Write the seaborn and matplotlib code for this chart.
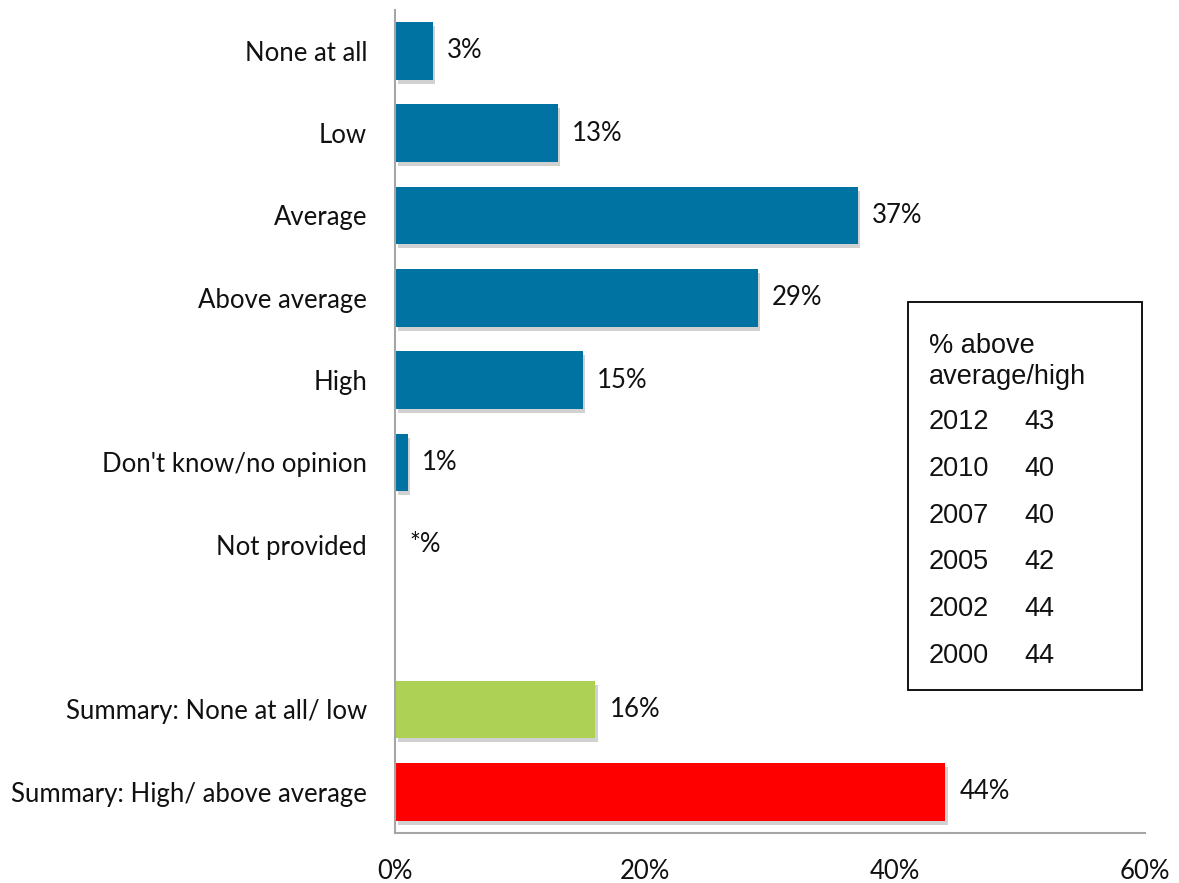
import matplotlib
matplotlib.use("Agg")
import matplotlib.pyplot as plt
import matplotlib.patheffects as pe
from matplotlib.patches import Rectangle
import seaborn as sns
import pandas as pd

# Response categories (the blank entry leaves a gap before the summary rows)
categories = ["None at all", "Low", "Average", "Above average", "High",
              "Don't know/no opinion", "Not provided", " ",
              "Summary: None at all/ low", "Summary: High/ above average"]
values = [3, 13, 37, 29, 15, 1, 0, None, 16, 44]
value_labels = ["3%", "13%", "37%", "29%", "15%", "1%", "*%", "", "16%", "44%"]
groups = ["detail"] * 7 + ["gap", "low", "high"]

# Trend table shown in the box
trend_years = ["2012", "2010", "2007", "2005", "2002", "2000"]
trend_values = ["43", "40", "40", "42", "44", "44"]
x_ticks = [0, 20, 40, 60]

sns.set_theme(style="white")
plt.rcParams["font.family"] = ["Lato", "DejaVu Sans"]

palette = {"detail": "#0073A2", "gap": "#FFFFFF", "low": "#ADD155", "high": "#FF0000"}

df = pd.DataFrame({"category": categories, "value": values, "group": groups})
plot_df = df.dropna(subset=["value"])

W, H = 1179, 883
fig = plt.figure(figsize=(W / 100, H / 100), dpi=100)
ax = fig.add_axes([395 / W, 1 - 833 / H, 750 / W, (833 - 9.6) / H])

sns.barplot(data=plot_df, x="value", y="category", hue="group", order=categories,
            palette=palette, orient="h", width=0.7, legend=False, ax=ax,
            saturation=1, edgecolor="none")

shadow = [pe.SimplePatchShadow(offset=(2, -3), shadow_rgbFace="#8c8c8c", alpha=0.4),
          pe.Normal()]
for bar in ax.patches:
    bar.set_path_effects(shadow)

label_size = 18.5
for i, (v, lab) in enumerate(zip(values, value_labels)):
    if v is None:
        continue
    ax.text(v + 1.15, i, lab, va="center", ha="left", fontsize=label_size, color="#111111")

ax.set_xlim(0, 60)
ax.set_ylim(len(categories) - 0.5, -0.5)
ax.set_xticks(x_ticks)
ax.set_xticklabels([f"{t}%" for t in x_ticks], fontsize=label_size, color="#111111")
ax.set_yticks(range(len(categories)))
ax.set_yticklabels(categories, fontsize=label_size, color="#111111")
ax.tick_params(axis="y", length=0, pad=20)
ax.tick_params(axis="x", length=0, pad=19)
ax.set_xlabel("")
ax.set_ylabel("")

for side in ["top", "right"]:
    ax.spines[side].set_visible(False)
for side in ["left", "bottom"]:
    ax.spines[side].set_color("#a6a6a6")
    ax.spines[side].set_linewidth(1.5)

# Trend box
box = Rectangle((908 / W, 1 - 690 / H), 234 / W, 388 / H, transform=fig.transFigure,
                facecolor="white", edgecolor="black", linewidth=1.3)
fig.patches.append(box)

box_font = ["Liberation Sans", "DejaVu Sans"]
box_size = 19.5
fig.text(929 / W, 1 - 346 / H, "% above", fontsize=box_size, va="center", ha="left",
         family=box_font, color="#111111")
fig.text(929 / W, 1 - 377 / H, "average/high", fontsize=box_size, va="center", ha="left",
         family=box_font, color="#111111")
for k, (yr, val) in enumerate(zip(trend_years, trend_values)):
    yy = 422 + k * 46.8
    fig.text(929 / W, 1 - yy / H, yr, fontsize=box_size, va="center", ha="left",
             family=box_font, color="#111111")
    fig.text(1024 / W, 1 - yy / H, val, fontsize=box_size, va="center", ha="left",
             family=box_font, color="#111111")

fig.savefig("out.png", dpi=100)
